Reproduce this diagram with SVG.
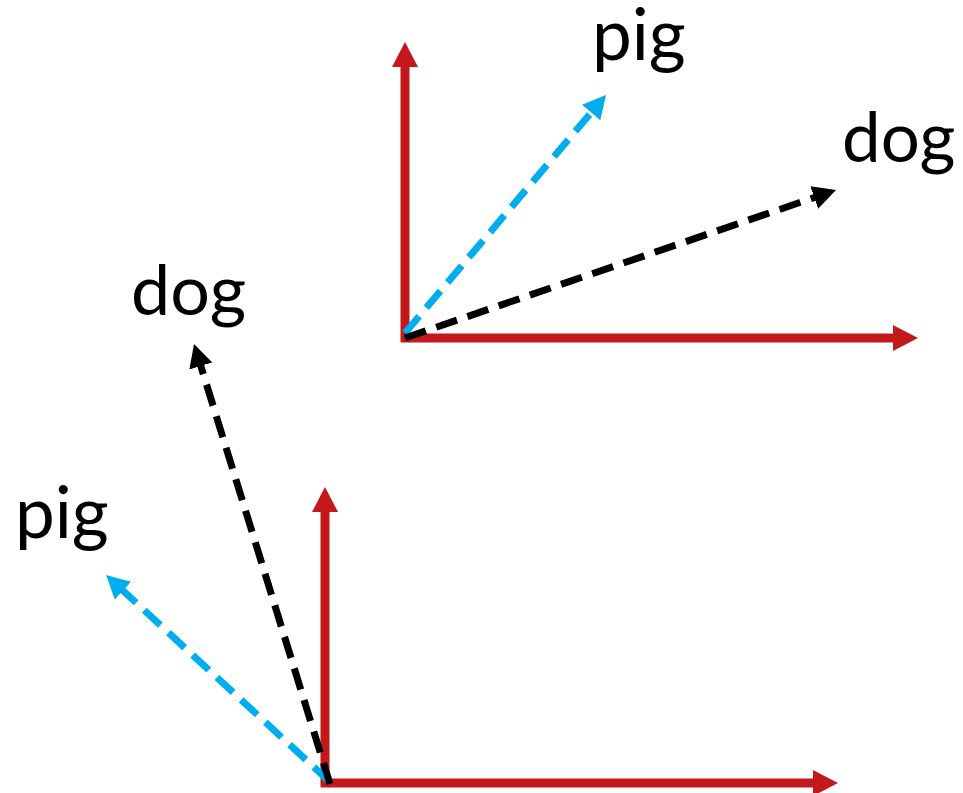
<svg xmlns="http://www.w3.org/2000/svg" width="963" height="793" viewBox="0 0 963 793">
<style>
.axis{stroke:#C3191D;stroke-width:9;fill:none}
.blue{stroke:#00AEEF;stroke-width:7;stroke-dasharray:22 11;fill:none}
.black{stroke:#000;stroke-width:7;stroke-dasharray:22 11;fill:none}
.lbl{font-family:Lato,"Open Sans",sans-serif;fill:#000}
</style>
<defs>
<marker id="ar" markerUnits="userSpaceOnUse" markerWidth="30" markerHeight="30" viewBox="0 -15 30 30" refX="1" refY="0" orient="auto"><path d="M0,-13 L25,0 L0,13 z" fill="#C3191D"/></marker>
<marker id="ab" markerUnits="userSpaceOnUse" markerWidth="30" markerHeight="30" viewBox="0 -15 30 30" refX="1" refY="0" orient="auto"><path d="M0,-12 L23,0 L0,12 z" fill="#00AEEF"/></marker>
<marker id="ak" markerUnits="userSpaceOnUse" markerWidth="30" markerHeight="30" viewBox="0 -15 30 30" refX="1" refY="0" orient="auto"><path d="M0,-12 L23,0 L0,12 z" fill="#000"/></marker>
</defs>
<g id="connectors">
<line class="axis" x1="405" y1="342" x2="405" y2="66" marker-end="url(#ar)"/>
<line class="axis" x1="401" y1="338" x2="894" y2="338" marker-end="url(#ar)"/>
<line class="axis" x1="325" y1="787" x2="325" y2="511" marker-end="url(#ar)"/>
<line class="axis" x1="321" y1="783" x2="814" y2="783" marker-end="url(#ar)"/>
<line class="blue" x1="405" y1="333" x2="591.8" y2="111.8" marker-end="url(#ab)"/>
<line class="black" x1="405" y1="338" x2="815.2" y2="197.2" marker-end="url(#ak)"/>
<line class="blue" x1="330" y1="782" x2="122.2" y2="589.9" marker-end="url(#ab)"/>
<line class="black" x1="330" y1="784" x2="200.5" y2="365" marker-end="url(#ak)"/>
</g>
<g id="pig-top"><text class="lbl" x="592" y="60" font-size="71">pig</text></g>
<g id="dog-top"><text class="lbl" x="842" y="162" font-size="69">dog</text></g>
<g id="dog-bottom"><text class="lbl" x="131" y="315" font-size="70">dog</text></g>
<g id="pig-bottom"><text class="lbl" x="15" y="538" font-size="71">pig</text></g>
</svg>
